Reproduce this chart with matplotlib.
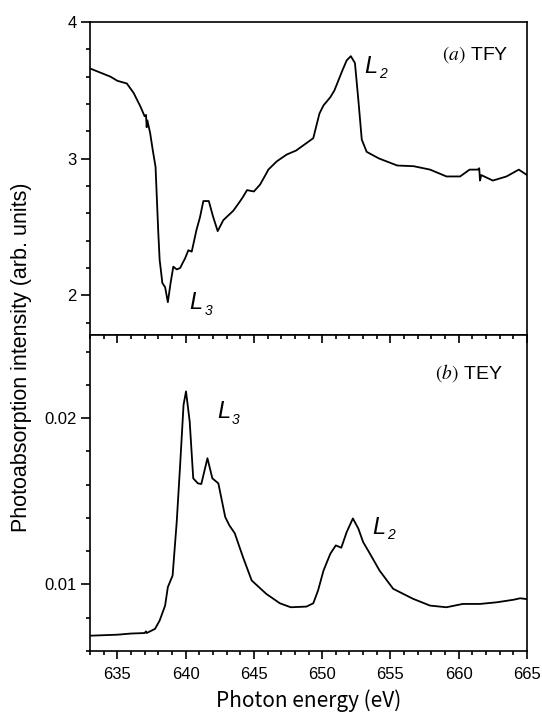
import matplotlib
matplotlib.use("Agg")
import matplotlib.pyplot as plt
from matplotlib.ticker import MultipleLocator, FixedLocator

plt.rcParams["font.family"] = ["Liberation Sans", "DejaVu Sans"]

# TFY spectrum (panel a)
tfy_x = [633.0, 633.5, 634.0, 634.5, 635.0, 635.7, 636.2, 636.7, 637.0, 637.1,
         637.15, 637.2, 637.4, 637.6, 637.8, 637.9, 638.0, 638.1, 638.3, 638.5,
         638.7, 638.9, 639.1, 639.35, 639.6, 639.8, 639.96, 640.2, 640.45, 640.8,
         641.05, 641.3, 641.7, 642.0, 642.35, 642.76, 643.5, 644.0, 644.2, 644.5,
         645.0, 645.45, 645.9, 646.06, 646.67, 647.4, 648.1, 649.35, 649.8, 650.1,
         650.6, 650.9, 651.5, 651.8, 652.1, 652.4, 652.65, 652.9, 653.26, 654.0,
         654.2, 655.5, 656.7, 657.9, 659.1, 660.1, 660.8, 661.4, 661.5, 661.56,
         661.65, 662.5, 663.5, 664.4, 665.0]
tfy_y = [3.66, 3.64, 3.62, 3.60, 3.57, 3.55, 3.48, 3.38, 3.31, 3.32,
         3.23, 3.28, 3.19, 3.06, 2.94, 2.70, 2.46, 2.26, 2.09, 2.06,
         1.95, 2.09, 2.21, 2.19, 2.20, 2.24, 2.27, 2.33, 2.32, 2.48,
         2.57, 2.69, 2.69, 2.58, 2.47, 2.55, 2.62, 2.69, 2.72, 2.77,
         2.76, 2.81, 2.89, 2.92, 2.98, 3.03, 3.06, 3.15, 3.33, 3.39,
         3.45, 3.50, 3.65, 3.72, 3.75, 3.70, 3.43, 3.14, 3.05, 3.01,
         3.00, 2.95, 2.945, 2.92, 2.87, 2.87, 2.92, 2.92, 2.93, 2.84,
         2.88, 2.84, 2.87, 2.92, 2.88]

# TEY spectrum (panel b)
tey_x = [633.0, 634.0, 635.0, 636.0, 637.0, 637.1, 637.15, 637.76, 638.1, 638.5,
         638.7, 639.05, 639.35, 639.6, 639.85, 640.03, 640.3, 640.56, 640.9, 641.15,
         641.6, 641.96, 642.4, 642.9, 643.2, 643.6, 644.2, 644.84, 645.9, 646.9,
         647.7, 648.85, 649.35, 649.7, 650.1, 650.6, 651.0, 651.4, 651.8, 652.25,
         652.65, 653.0, 653.5, 654.2, 655.2, 656.65, 657.9, 659.1, 660.3, 661.56,
         662.8, 664.0, 664.5, 665.0]
tey_y = [0.00692, 0.00695, 0.00698, 0.00705, 0.00708, 0.00718, 0.00708, 0.00733, 0.00783, 0.00873,
         0.00984, 0.01054, 0.01376, 0.01718, 0.02080, 0.02161, 0.01980, 0.01638, 0.01608, 0.01604,
         0.01759, 0.01638, 0.01608, 0.01406, 0.01356, 0.01308, 0.01165, 0.01024, 0.00944, 0.00887,
         0.00863, 0.00867, 0.00887, 0.00964, 0.01084, 0.01185, 0.01235, 0.01221, 0.01316, 0.01397,
         0.01336, 0.01255, 0.01185, 0.01084, 0.00974, 0.00914, 0.00873, 0.00863, 0.00883, 0.00883,
         0.00893, 0.00908, 0.00917, 0.00912]

W, H = 542, 715
fig = plt.figure(figsize=(W / 100, H / 100), dpi=100)
L, R = 90 / W, 527 / W
ax1 = fig.add_axes([L, 1 - 335 / H, R - L, (335 - 22) / H])
ax2 = fig.add_axes([L, 1 - 651 / H, R - L, (651 - 335) / H])

ax1.plot(tfy_x, tfy_y, color="black", lw=1.3)
ax2.plot(tey_x, tey_y, color="black", lw=1.3)

for ax in (ax1, ax2):
    ax.set_xlim(633, 665)
    for s in ax.spines.values():
        s.set_linewidth(1.2)
    ax.xaxis.set_major_locator(MultipleLocator(5))
    ax.xaxis.set_minor_locator(MultipleLocator(1))
    ax.tick_params(axis="y", which="major", direction="out", length=6.5, width=1.2,
                   labelsize=12, pad=3)
    ax.tick_params(axis="y", which="minor", direction="out", length=3.2, width=1.2)
    ax.tick_params(right=False, which="both")

ax1.set_ylim(1.71, 4.0)
ax1.yaxis.set_major_locator(FixedLocator([2, 3, 4]))
ax1.yaxis.set_minor_locator(MultipleLocator(0.2))
ax1.set_yticklabels(["2", "3", "4"])
ax1.tick_params(axis="x", which="both", bottom=False, top=False, labelbottom=False)

ax2.set_ylim(0.006, 0.025)
ax2.yaxis.set_major_locator(FixedLocator([0.01, 0.02]))
ax2.yaxis.set_minor_locator(MultipleLocator(0.002))
ax2.set_yticklabels(["0.01", "0.02"])
ax2.tick_params(axis="x", which="major", direction="out", length=5.5, width=1.2,
                labelsize=12, pad=6, top=True)
ax2.tick_params(axis="x", which="minor", direction="out", length=3.2, width=1.2, top=True)
# ticks along the shared boundary point down into panel b
for t in ax2.xaxis.get_major_ticks() + ax2.xaxis.get_minor_ticks():
    t.tick2line.set_marker(3)

ax2.set_xlabel("Photon energy (eV)", family=["Noto Sans CJK JP", "DejaVu Sans"],
               fontsize=15, labelpad=5)
fig.text(22 / W, 1 - 357 / H, "Photoabsorption intensity (arb. units)", rotation=90,
         ha="center", va="center", fontsize=15.5)


def edge_label(ax, x, y, sub):
    ax.text(x, y, "L", fontsize=17, style="italic", ha="left", va="baseline")
    ax.annotate(sub, (x, y), xytext=(10.5, -4), textcoords="offset points",
                fontsize=10, style="italic", ha="left", va="baseline")


edge_label(ax1, 653.1, 3.63, "2")
edge_label(ax1, 640.3, 1.90, "3")
edge_label(ax2, 642.3, 0.02, "3")
edge_label(ax2, 653.7, 0.01305, "2")

ax1.text(0.957, 0.88, r"$(a)$ TFY", transform=ax1.transAxes, ha="right",
         va="baseline", fontsize=14, math_fontfamily="stix")
ax2.text(0.945, 0.862, r"$(b)$ TEY", transform=ax2.transAxes, ha="right",
         va="baseline", fontsize=14, math_fontfamily="stix")

fig.savefig("out.png", dpi=100, facecolor="white")
